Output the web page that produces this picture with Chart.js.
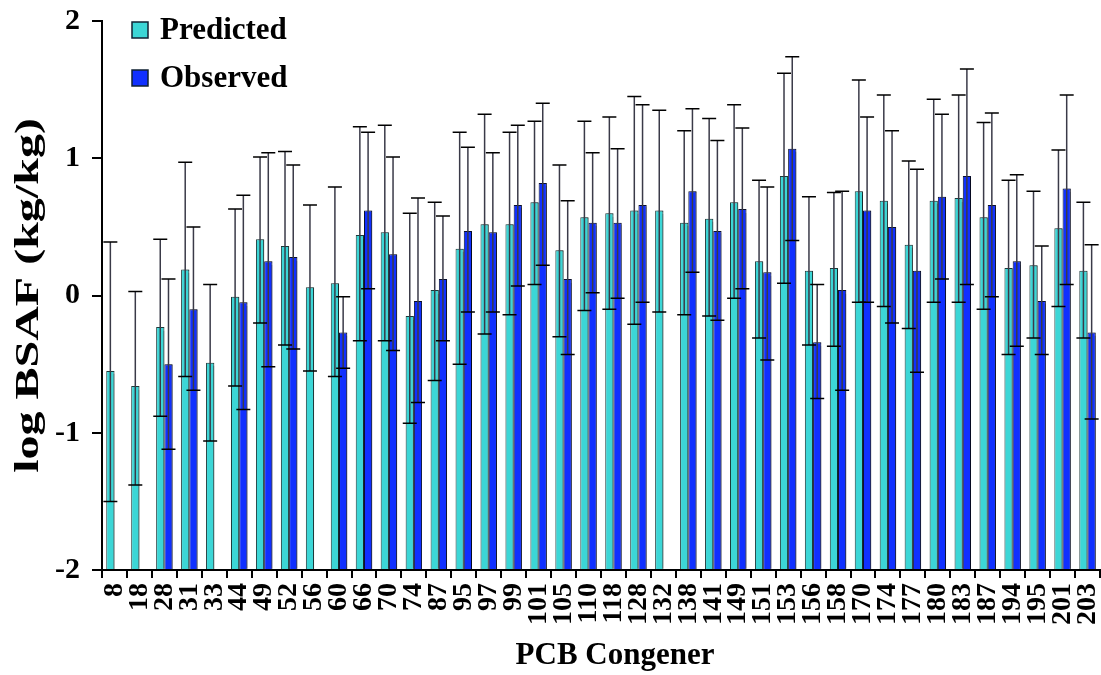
<!DOCTYPE html>
<html>
<head>
<meta charset="utf-8">
<title>log BSAF by PCB Congener</title>
<script src="https://cdn.jsdelivr.net/npm/chart.js@4/dist/chart.umd.min.js"></script>
<style>
  body { margin: 0; background: #fff; }
  #wrap { width: 1101px; height: 675px; position: relative; }
</style>
</head>
<body>
<div id="wrap"><canvas id="chart"></canvas></div>
<script>
'use strict';

// ************************** DATA ****************************************** //
let congeners = ['8', '18', '28', '31', '33', '44', '49', '52', '56', '60', '66', '70', '74', '87', '95', '97', '99', '101', '105', '110',
  '118', '128', '132', '138', '141', '149', '151', '153', '156', '158', '170', '174', '177', '180', '183', '187', '194', '195', '201', '203'];

let predicted = [-0.55, -0.66, -0.23, 0.19, -0.49, -0.01, 0.41, 0.36, 0.06, 0.09, 0.44, 0.46, -0.15, 0.04, 0.34, 0.52, 0.52, 0.68, 0.33, 0.57,
  0.60, 0.62, 0.62, 0.53, 0.56, 0.68, 0.25, 0.87, 0.18, 0.20, 0.76, 0.69, 0.37, 0.69, 0.71, 0.57, 0.20, 0.22, 0.49, 0.18];
let predictedHigh = [0.39, 0.03, 0.41, 0.97, 0.08, 0.63, 1.01, 1.05, 0.66, 0.79, 1.23, 1.24, 0.60, 0.68, 1.19, 1.32, 1.19, 1.27, 0.95, 1.27,
  1.30, 1.45, 1.35, 1.20, 1.29, 1.39, 0.84, 1.62, 0.72, 0.75, 1.57, 1.46, 0.98, 1.43, 1.46, 1.26, 0.84, 0.76, 1.06, 0.68];
let predictedLow = [-1.50, -1.38, -0.88, -0.59, -1.06, -0.66, -0.20, -0.36, -0.55, -0.59, -0.33, -0.33, -0.93, -0.62, -0.50, -0.28, -0.14, 0.08, -0.30, -0.11,
  -0.10, -0.21, -0.12, -0.14, -0.15, -0.02, -0.31, 0.09, -0.36, -0.37, -0.05, -0.08, -0.24, -0.05, -0.05, -0.10, -0.43, -0.31, -0.08, -0.31];

let observed = [null, null, -0.50, -0.10, null, -0.05, 0.25, 0.28, null, -0.27, 0.62, 0.30, -0.04, 0.12, 0.47, 0.46, 0.66, 0.82, 0.12, 0.53,
  0.53, 0.66, null, 0.76, 0.47, 0.63, 0.17, 1.07, -0.34, 0.04, 0.62, 0.50, 0.18, 0.72, 0.87, 0.66, 0.25, -0.04, 0.78, -0.27];
let observedHigh = [null, null, 0.12, 0.50, null, 0.73, 1.04, 0.95, null, -0.01, 1.19, 1.01, 0.71, 0.58, 1.08, 1.04, 1.24, 1.40, 0.69, 1.04,
  1.07, 1.39, null, 1.36, 1.13, 1.22, 0.79, 1.74, 0.08, 0.76, 1.30, 1.20, 0.92, 1.32, 1.65, 1.33, 0.88, 0.36, 1.46, 0.37];
let observedLow = [null, null, -1.12, -0.69, null, -0.83, -0.52, -0.39, null, -0.53, 0.05, -0.40, -0.78, -0.33, -0.12, -0.12, 0.07, 0.22, -0.43, 0.02,
  -0.02, -0.05, null, 0.17, -0.18, 0.05, -0.47, 0.40, -0.75, -0.69, -0.05, -0.20, -0.56, 0.12, 0.08, -0.01, -0.37, -0.43, 0.08, -0.90];

let yTicks = [-2, -1, 0, 1, 2];
let xTitle = 'PCB Congener';
let yTitle = 'log BSAF (kg/kg)';

// ************************** STYLE ***************************************** //
let serif = '"Liberation Serif", "Times New Roman", serif';
let tealColor = '#3cd6d6';
let blueColor = '#1030ff';

// ************************** PLUGINS *************************************** //
// soft grey shadow on the right of each bar, like the original
let barShadow = {
  id: 'barShadow',
  beforeDatasetDraw(chart) {
    let ctx = chart.ctx;
    ctx.save();
    ctx.shadowColor = 'rgba(0,0,0,0.35)';
    ctx.shadowOffsetX = 2;
    ctx.shadowOffsetY = 0;
    ctx.shadowBlur = 1;
  },
  afterDatasetDraw(chart) {
    chart.ctx.restore();
  }
};

// error bars: vertical line from low to high with caps
let errorBars = {
  id: 'errorBars',
  afterDatasetsDraw(chart) {
    let ctx = chart.ctx;
    let yScale = chart.scales.y;
    ctx.save();
    chart.data.datasets.forEach((ds, d) => {
      let meta = chart.getDatasetMeta(d);
      meta.data.forEach((bar, i) => {
        if (ds.data[i] === null) {
          return;
        }
        let hi = yScale.getPixelForValue(ds.errHigh[i]);
        let lo = yScale.getPixelForValue(ds.errLow[i]);
        let x = bar.x;
        ctx.strokeStyle = '#3a3a48';
        ctx.lineWidth = 1.5;
        ctx.beginPath();
        ctx.moveTo(x, lo);
        ctx.lineTo(x, hi);
        ctx.stroke();
        ctx.strokeStyle = '#000';
        ctx.beginPath();
        ctx.moveTo(x - 7, hi);
        ctx.lineTo(x + 7, hi);
        ctx.moveTo(x - 7, lo);
        ctx.lineTo(x + 7, lo);
        ctx.stroke();
      });
    });
    ctx.restore();
  }
};

// legend in the upper left of the plot, plus the two axis titles
let annotations = {
  id: 'annotations',
  afterDraw(chart) {
    let ctx = chart.ctx;
    let area = chart.chartArea;
    let left = area.left + 30;
    let top = area.top + 9;
    ctx.save();
    ctx.font = 'bold 31px ' + serif;
    ctx.textBaseline = 'middle';
    chart.data.datasets.forEach((ds, i) => {
      let y = top + i * 48;
      ctx.fillStyle = ds.backgroundColor;
      ctx.fillRect(left, y - 8, 16, 16);
      ctx.strokeStyle = '#123';
      ctx.lineWidth = 1.5;
      ctx.strokeRect(left, y - 8, 16, 16);
      ctx.fillStyle = '#000';
      ctx.fillText(ds.label, left + 28, y + 1);
    });

    // x title
    ctx.textAlign = 'center';
    ctx.font = 'bold 31px ' + serif;
    ctx.fillText(xTitle, 615, 656);

    // y title, drawn narrow like the original
    ctx.translate(29, (area.top + area.bottom) / 2);
    ctx.rotate(-Math.PI / 2);
    ctx.scale(1, 0.72);
    ctx.font = 'bold 48px ' + serif;
    ctx.fillText(yTitle, 0, 0);
    ctx.restore();
  }
};

// keep the plot box where the original has it
function noOverflow(s) {
  s.paddingTop = 0;
  s.paddingBottom = 0;
  s.paddingLeft = 0;
  s.paddingRight = 0;
}

// ************************** CHART ***************************************** //
let chart = document.getElementById('chart');

let chartObj = {
  type: 'bar',
  data: {
    labels: congeners,
    datasets: [{
      label: 'Predicted',
      data: predicted,
      errHigh: predictedHigh,
      errLow: predictedLow,
      base: -2,
      backgroundColor: tealColor,
      borderColor: '#1c3a3a',
      borderWidth: 1
    },
    {
      label: 'Observed',
      data: observed,
      errHigh: observedHigh,
      errLow: observedLow,
      base: -2,
      backgroundColor: blueColor,
      borderColor: '#0a1030',
      borderWidth: 1
    }]
  },
  options: {
    responsive: true,
    maintainAspectRatio: false,
    animation: false,
    layout: {
      padding: { top: 21, right: 1, left: 0, bottom: 0 }
    },
    categoryPercentage: 0.66,
    barPercentage: 1.0,
    plugins: {
      legend: { display: false },
      tooltip: { enabled: false }
    },
    scales: {
      x: {
        afterFit: s => { s.height = 105; noOverflow(s); },
        grid: {
          drawOnChartArea: false,
          drawTicks: true,
          tickLength: 8,
          color: '#000',
          lineWidth: 2
        },
        border: { display: true, color: '#000', width: 2 },
        ticks: {
          autoSkip: false,
          minRotation: 90,
          maxRotation: 90,
          padding: 5,
          color: '#000',
          font: { family: serif, size: 28, weight: 'bold' }
        }
      },
      y: {
        min: -2,
        max: 2,
        afterFit: s => { s.width = 102; noOverflow(s); },
        afterBuildTicks: s => { s.ticks = yTicks.map(v => ({ value: v })); },
        grid: {
          drawOnChartArea: false,
          drawTicks: true,
          tickLength: 10,
          color: '#000',
          lineWidth: 2
        },
        border: { display: true, color: '#000', width: 2 },
        ticks: {
          padding: 12,
          color: '#000',
          font: { family: serif, size: 30, weight: 'bold' }
        }
      }
    }
  },
  plugins: [barShadow, errorBars, annotations]
};

new Chart(chart, chartObj);
</script>
</body>
</html>
